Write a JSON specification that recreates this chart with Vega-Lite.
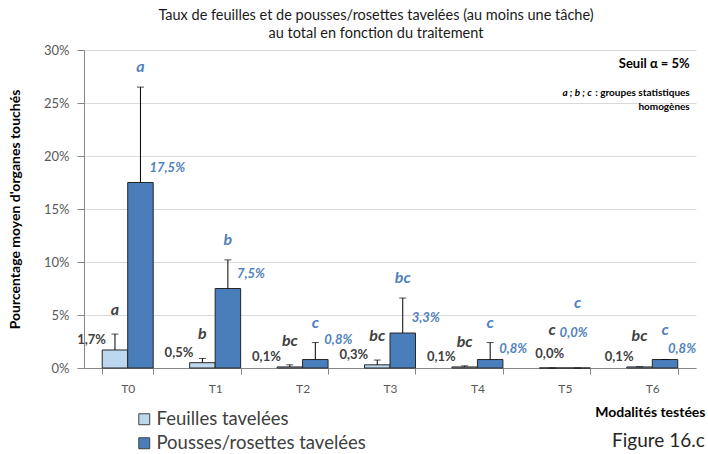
{
  "$schema": "https://vega.github.io/schema/vega-lite/v6.json",
  "width": 612,
  "height": 318,
  "autosize": {"type": "none"},
  "padding": {"left": 84, "top": 50, "right": 12, "bottom": 86},
  "background": "white",
  "title": {
    "text": ["Taux de feuilles et de pousses/rosettes  tavelées (au moins une tâche)", "au total en fonction  du traitement"],
    "font": "Lato", "fontSize": 14.5, "fontWeight": "normal", "color": "#1a1a1a",
    "anchor": "middle", "frame": "group", "dx": -14, "dy": 21, "offset": 10, "lineHeight": 18, "baseline": "bottom"
  },
  "config": {
    "locale": {"number": {"decimal": ",", "thousands": " ", "grouping": [3], "currency": ["", " €"]}},
    "font": "Lato",
    "view": {"stroke": null}
  },
  "data": {"values": [
    {"cat": "T0", "serie": "Feuilles tavelées", "v": 0.017, "err": 0.032, "lab": "a"},
    {"cat": "T0", "serie": "Pousses/rosettes tavelées", "v": 0.175, "err": 0.265, "lab": "a"},
    {"cat": "T1", "serie": "Feuilles tavelées", "v": 0.005, "err": 0.009, "lab": "b"},
    {"cat": "T1", "serie": "Pousses/rosettes tavelées", "v": 0.075, "err": 0.102, "lab": "b"},
    {"cat": "T2", "serie": "Feuilles tavelées", "v": 0.001, "err": 0.003, "lab": "bc"},
    {"cat": "T2", "serie": "Pousses/rosettes tavelées", "v": 0.008, "err": 0.024, "lab": "c"},
    {"cat": "T3", "serie": "Feuilles tavelées", "v": 0.003, "err": 0.0075, "lab": "bc"},
    {"cat": "T3", "serie": "Pousses/rosettes tavelées", "v": 0.033, "err": 0.066, "lab": "bc"},
    {"cat": "T4", "serie": "Feuilles tavelées", "v": 0.001, "err": 0.002, "lab": "bc"},
    {"cat": "T4", "serie": "Pousses/rosettes tavelées", "v": 0.008, "err": 0.024, "lab": "c"},
    {"cat": "T5", "serie": "Feuilles tavelées", "v": 0.0, "err": 0.0, "lab": "c"},
    {"cat": "T5", "serie": "Pousses/rosettes tavelées", "v": 0.0, "err": 0.0, "lab": "c"},
    {"cat": "T6", "serie": "Feuilles tavelées", "v": 0.001, "err": 0.0012, "lab": "bc"},
    {"cat": "T6", "serie": "Pousses/rosettes tavelées", "v": 0.008, "err": 0.008, "lab": "c"}
  ]},
  "encoding": {
    "x": {
      "field": "cat", "type": "nominal",
      "scale": {"paddingInner": 0.417, "paddingOuter": 0.2085},
      "axis": {
        "title": "Modalités testées", "titleX": 621, "titleY": 44, "titleAlign": "right", "titleBaseline": "middle",
        "titleFontSize": 14, "titleFontWeight": "bold", "titleColor": "#000000", "titleFont": "Lato",
        "labelAngle": 0, "labelFontSize": 12, "labelColor": "#595959", "labelPadding": 9, "labelFont": "Lato",
        "tickBand": "extent", "tickSize": 6, "tickColor": "#868686", "domainColor": "#868686", "grid": false
      }
    },
    "xOffset": {"field": "serie", "type": "nominal", "scale": {"paddingInner": 0, "paddingOuter": 0}},
    "y": {
      "type": "quantitative",
      "scale": {"domain": [0, 0.3], "nice": false},
      "axis": {
        "title": "Pourcentage moyen d'organes touchés", "titleX": -69, "titleY": 159, "titleAlign": "center", "titleBaseline": "middle",
        "titleFontSize": 14, "titleFontWeight": "bold", "titleColor": "#000000", "titleFont": "Lato",
        "values": [0, 0.05, 0.1, 0.15, 0.2, 0.25, 0.3], "format": ".0%",
        "labelFontSize": 13, "labelColor": "#595959", "labelPadding": 8, "labelFont": "Lato",
        "tickSize": 7, "tickColor": "#868686", "domainColor": "#868686",
        "gridColor": "#d9d9d9", "gridWidth": 1
      }
    }
  },
  "layer": [
    {
      "mark": {"type": "bar", "stroke": "#262626", "strokeWidth": 1},
      "encoding": {
        "y": {"field": "v", "type": "quantitative"},
        "color": {
          "field": "serie", "type": "nominal",
          "scale": {"domain": ["Feuilles tavelées", "Pousses/rosettes tavelées"], "range": ["#BDD7EE", "#4A7EBB"]},
          "legend": {
            "orient": "none", "legendX": 51, "legendY": 360, "title": null, "direction": "vertical",
            "symbolType": "square", "symbolSize": 120, "symbolStrokeColor": "#404040", "symbolStrokeWidth": 1,
            "symbolOpacity": 1, "labelFontSize": 18.5, "labelFont": "Lato", "labelColor": "#404040", "labelLimit": 400,
            "rowPadding": 5, "labelOffset": 3
          }
        }
      }
    },
    {
      "mark": {"type": "rule", "color": "#000000", "strokeWidth": 1},
      "encoding": {
        "y": {"field": "v", "type": "quantitative"},
        "y2": {"field": "err"}
      }
    },
    {
      "mark": {"type": "tick", "color": "#000000", "size": 7, "thickness": 1, "orient": "horizontal"},
      "encoding": {
        "y": {"field": "err", "type": "quantitative"}
      }
    },
    {
      "transform": [{"filter": "datum.serie === 'Feuilles tavelées'"}],
      "mark": {"type": "text", "align": "right", "baseline": "middle",
        "dx": {"expr": "datum.cat === 'T5' ? 12 : datum.cat === 'T6' ? -6 : -9"},
        "dy": {"expr": "datum.cat === 'T5' ? -14 : -10"},
        "fontSize": 13, "fontWeight": "bold", "color": "#404040", "font": "Lato"},
      "encoding": {
        "y": {"field": "v", "type": "quantitative"},
        "text": {"field": "v", "type": "quantitative", "format": ".1%"}
      }
    },
    {
      "transform": [{"filter": "datum.serie === 'Pousses/rosettes tavelées'"}],
      "mark": {"type": "text", "align": "left", "baseline": "middle",
        "dx": {"expr": "datum.cat === 'T5' ? -18 : datum.cat === 'T6' ? 3 : 9"},
        "dy": {"expr": "datum.cat === 'T5' ? -35 : datum.cat === 'T2' ? -20 : datum.cat === 'T4' || datum.cat === 'T6' ? -11 : -15"},
        "fontSize": 13, "fontWeight": "bold", "fontStyle": "italic", "color": "#4F81BD", "font": "Lato"},
      "encoding": {
        "y": {"field": "v", "type": "quantitative"},
        "text": {"field": "v", "type": "quantitative", "format": ".1%"}
      }
    },
    {
      "transform": [{"filter": "datum.serie === 'Feuilles tavelées'"}],
      "mark": {"type": "text", "align": "center", "baseline": "middle",
        "dy": {"expr": "datum.cat === 'T5' ? -38 : datum.cat === 'T6' ? -31 : -24"},
        "fontSize": 16, "fontWeight": "bold", "fontStyle": "italic", "color": "#404040", "font": "Lato"},
      "encoding": {
        "y": {"field": "err", "type": "quantitative"},
        "text": {"field": "lab", "type": "nominal"}
      }
    },
    {
      "transform": [{"filter": "datum.serie === 'Pousses/rosettes tavelées'"}],
      "mark": {"type": "text", "align": "center", "baseline": "middle",
        "dy": {"expr": "datum.cat === 'T5' ? -65 : datum.cat === 'T6' ? -30 : -20"},
        "fontSize": 16, "fontWeight": "bold", "fontStyle": "italic", "color": "#4F81BD", "font": "Lato"},
      "encoding": {
        "y": {"field": "err", "type": "quantitative"},
        "text": {"field": "lab", "type": "nominal"}
      }
    },
    {
      "data": {"values": [{"t": "Seuil α = 5%"}]},
      "mark": {"type": "text", "align": "right", "baseline": "middle", "dx": 12, "fontSize": 13, "fontWeight": "bold", "color": "#000000", "font": "Lato"},
      "encoding": {
        "x": {"datum": "T6", "bandPosition": 1},
        "xOffset": null,
        "y": {"datum": 0.287},
        "text": {"field": "t"}
      }
    },
    {
      "data": {"values": [{"t": ": groupes statistiques"}]},
      "mark": {"type": "text", "align": "right", "baseline": "middle", "dx": 12, "fontSize": 10, "fontWeight": "bold", "color": "#000000", "font": "Lato"},
      "encoding": {
        "x": {"datum": "T6", "bandPosition": 1},
        "xOffset": null,
        "y": {"datum": 0.2594},
        "text": {"field": "t"}
      }
    },
    {
      "data": {"values": [{"t": "a ; b ; c"}]},
      "mark": {"type": "text", "align": "right", "baseline": "middle", "dx": -86, "fontSize": 10, "fontWeight": "bold", "fontStyle": "italic", "color": "#000000", "font": "Lato"},
      "encoding": {
        "x": {"datum": "T6", "bandPosition": 1},
        "xOffset": null,
        "y": {"datum": 0.2594},
        "text": {"field": "t"}
      }
    },
    {
      "data": {"values": [{"t": "homogènes"}]},
      "mark": {"type": "text", "align": "right", "baseline": "middle", "dx": 12, "fontSize": 10, "fontWeight": "bold", "color": "#000000", "font": "Lato"},
      "encoding": {
        "x": {"datum": "T6", "bandPosition": 1},
        "xOffset": null,
        "y": {"datum": 0.2462},
        "text": {"field": "t"}
      }
    },
    {
      "data": {"values": [{"t": "Figure 16.c"}]},
      "mark": {"type": "text", "align": "right", "baseline": "middle", "dx": 27, "dy": 73, "fontSize": 19, "fontWeight": "normal", "color": "#262626", "font": "Lato"},
      "encoding": {
        "x": {"datum": "T6", "bandPosition": 1},
        "xOffset": null,
        "y": {"datum": 0},
        "text": {"field": "t"}
      }
    }
  ]
}
